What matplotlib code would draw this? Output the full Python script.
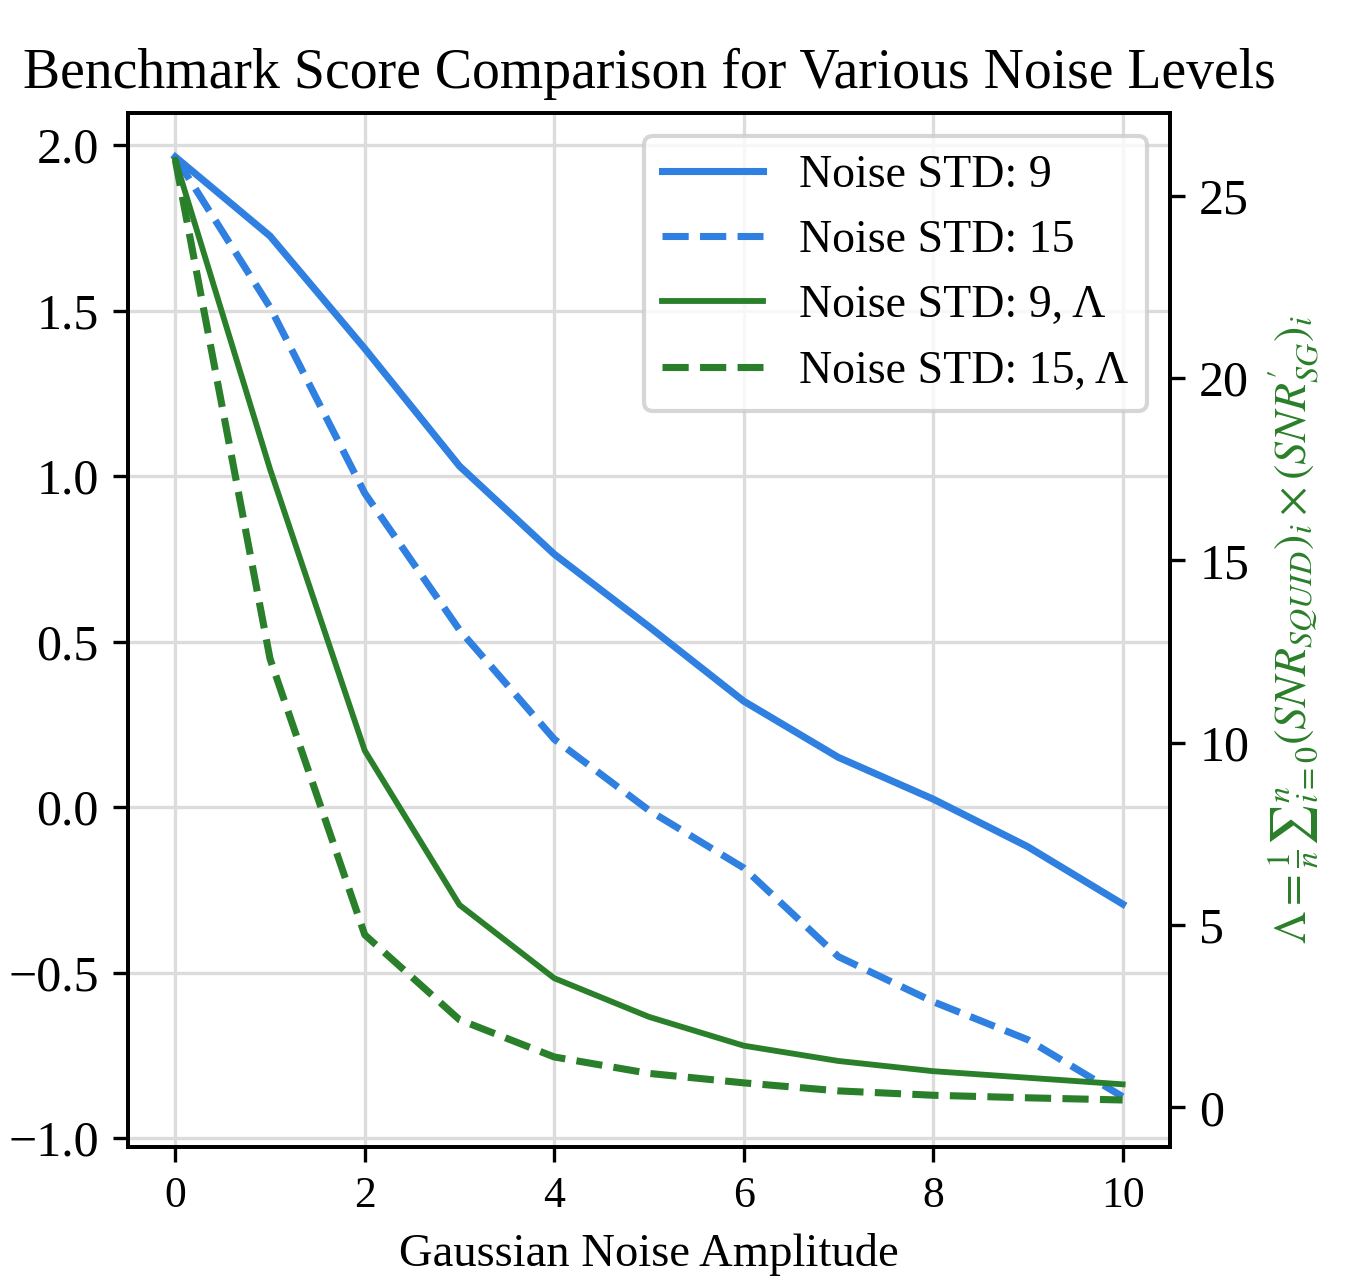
import matplotlib
matplotlib.use("Agg")
import matplotlib.pyplot as plt

plt.rcParams["font.family"] = ["Liberation Serif", "DejaVu Serif"]
plt.rcParams["mathtext.fontset"] = "stix"

# Gaussian noise amplitudes
amplitude = [0, 1, 2, 3, 4, 5, 6, 7, 8, 9, 10]

# Benchmark scores (left axis)
score_std9 = [1.964, 1.725, 1.385, 1.030, 0.764, 0.545, 0.320, 0.150, 0.024, -0.120, -0.293]
score_std15 = [1.964, 1.510, 0.948, 0.535, 0.205, -0.010, -0.184, -0.452, -0.588, -0.703, -0.875]

# Lambda metric (right axis)
lambda_std9 = [25.98, 17.5, 9.78, 5.55, 3.54, 2.48, 1.69, 1.27, 0.99, 0.81, 0.63]
lambda_std15 = [25.98, 12.3, 4.73, 2.40, 1.38, 0.93, 0.67, 0.45, 0.33, 0.26, 0.20]

blue = "#2f80e0"
green = "#2a7f2a"

fig = plt.figure(figsize=(1351 / 300, 1283 / 300), dpi=300)
ax = fig.add_axes([0.0947, 0.106, 0.7713, 0.806])
ax2 = ax.twinx()

l1, = ax.plot(amplitude, score_std9, color=blue, lw=1.7, label="Noise STD: 9")
l2, = ax.plot(amplitude, score_std15, color=blue, lw=1.7, ls="--", label="Noise STD: 15")
l3, = ax2.plot(amplitude, lambda_std9, color=green, lw=1.4, label="Noise STD: 9, Λ")
l4, = ax2.plot(amplitude, lambda_std15, color=green, lw=1.7, ls="--", label="Noise STD: 15, Λ")

ax.set_ylim(-1.027, 2.097)
ax.set_xticks([0, 2, 4, 6, 8, 10])
ax.set_yticks([-1.0, -0.5, 0.0, 0.5, 1.0, 1.5, 2.0])
ax2.set_yticks([0, 5, 10, 15, 20, 25])
ax.grid(True, color="#dcdcdc", lw=0.8)
ax.set_axisbelow(True)

for a in (ax, ax2):
    a.tick_params(width=0.8, length=3.5)
    for s in a.spines.values():
        s.set_linewidth(0.9)
ax.tick_params(axis="x", labelsize=10.5)
ax.tick_params(axis="y", labelsize=12)
ax2.tick_params(axis="y", labelsize=12)

ax.set_title("Benchmark Score Comparison for Various Noise Levels", fontsize=13.4)
ax.set_xlabel("Gaussian Noise Amplitude", fontsize=11.2)
ax2.set_ylabel(r"$\Lambda = \frac{1}{n}{\sum}_{i=0}^{n}(SNR_{SQUID})_i \times (SNR^{\prime}_{SG})_i$",
               color=green, fontsize=11, labelpad=4)

ax.legend(handles=[l1, l2, l3, l4], loc="upper right", fontsize=11,
          framealpha=0.8, edgecolor="#cccccc", handlelength=2.2)

fig.savefig("out.png", dpi=300)
